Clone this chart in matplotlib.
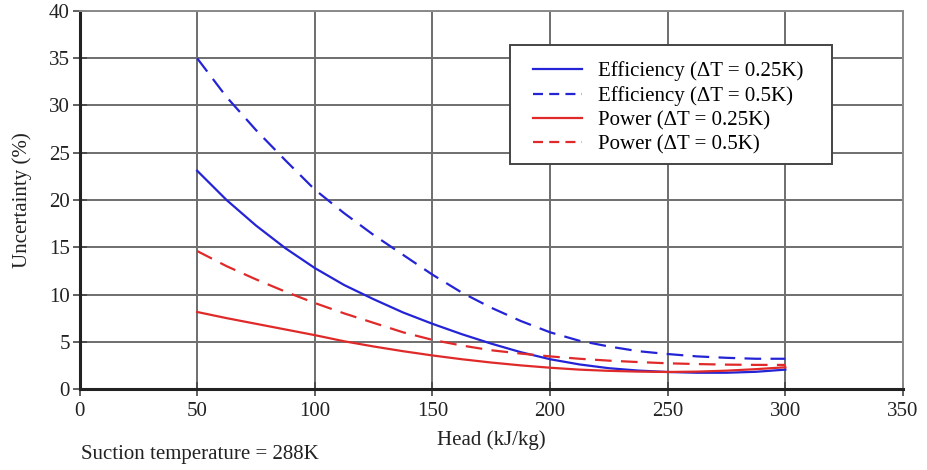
import matplotlib
matplotlib.use("Agg")
import matplotlib.pyplot as plt
from matplotlib.lines import Line2D
from matplotlib.patches import Rectangle

head = [50, 62.5, 75, 87.5, 100, 112.5, 125, 137.5, 150, 162.5, 175,
        187.5, 200, 212.5, 225, 237.5, 250, 262.5, 275, 287.5, 300]
eff_025 = [23.1, 20.0, 17.3, 14.9, 12.8, 11.0, 9.5, 8.1, 6.9, 5.8, 4.8,
           3.9, 3.15, 2.6, 2.2, 1.95, 1.8, 1.72, 1.72, 1.82, 2.05]
eff_05 = [35.0, 30.9, 27.4, 24.2, 21.1, 18.6, 16.3, 14.2, 12.1, 10.2, 8.6,
          7.2, 6.0, 5.1, 4.5, 4.0, 3.7, 3.45, 3.3, 3.2, 3.2]
pow_025 = [8.15, 7.5, 6.9, 6.3, 5.7, 5.05, 4.5, 4.0, 3.55, 3.15, 2.8,
           2.5, 2.25, 2.05, 1.92, 1.84, 1.8, 1.84, 1.94, 2.1, 2.3]
pow_05 = [14.6, 13.0, 11.6, 10.3, 9.1, 8.0, 7.0, 6.0, 5.2, 4.6, 4.1,
          3.75, 3.45, 3.2, 3.0, 2.85, 2.72, 2.64, 2.58, 2.55, 2.55]

labels = ["Efficiency (\u0394T = 0.25K)", "Efficiency (\u0394T = 0.5K)",
          "Power (\u0394T = 0.25K)", "Power (\u0394T = 0.5K)"]
xticks = [0, 50, 100, 150, 200, 250, 300, 350]
yticks = [0, 5, 10, 15, 20, 25, 30, 35, 40]

plt.rcParams['font.family'] = ['Liberation Serif', 'DejaVu Serif']

fig = plt.figure(figsize=(9.27, 4.70), dpi=100)
ax = fig.add_axes([79.5/927, 81/470, 823.5/927, 378/470])

blue = '#2424d6'
red = '#e02a2a'
txt = '#222222'
lw = 1.6
dash = (0, (7.5, 4.2))
ax.plot(head, eff_025, color=blue, lw=lw)
ax.plot(head, eff_05, color=blue, lw=lw, ls=dash)
ax.plot(head, pow_025, color=red, lw=lw)
ax.plot(head, pow_05, color=red, lw=lw, ls=dash)

ax.set_xlim(0, 350)
ax.set_ylim(0, 40)
ax.set_xticks(xticks)
ax.set_yticks(yticks)
ax.grid(True, color='#6e6e6e', lw=1.4)
ax.set_axisbelow(True)
for s in ['top', 'right']:
    ax.spines[s].set_color('#8a8a8a')
    ax.spines[s].set_linewidth(1.4)
for s in ['left', 'bottom']:
    ax.spines[s].set_color('#222222')
    ax.spines[s].set_linewidth(2.2)
ax.tick_params(direction='inout', length=10, width=1.2, color='#444444',
               labelsize=15, labelcolor=txt)
ax.tick_params(axis='x', pad=4)
ax.tick_params(axis='y', pad=2)

ax.set_xlabel('Head (kJ/kg)', fontsize=15, color=txt)
ax.xaxis.set_label_coords(0.5, -0.108)
ax.set_ylabel('Uncertainty (%)', fontsize=15, color=txt, labelpad=12)
fig.text(81/927, 1 - 454/470, 'Suction temperature = 288K', fontsize=15,
         color=txt, va='center', ha='left')

# legend frame (drawn separately to match the box proportions)
box = Rectangle((0.5233, (389 - 164) / 378), 322 / 823.5, 119 / 378,
                transform=ax.transAxes, facecolor='white', edgecolor='#444444',
                lw=1.4, zorder=4)
ax.add_patch(box)

leg_dash = (0, (4.5, 2.8))
handles = [Line2D([], [], color=blue, lw=lw),
           Line2D([], [], color=blue, lw=lw, ls=leg_dash),
           Line2D([], [], color=red, lw=lw),
           Line2D([], [], color=red, lw=lw, ls=leg_dash)]
leg = ax.legend(handles, labels, loc='upper left', bbox_to_anchor=(0.5507, 0.867),
                fontsize=15, frameon=False, handlelength=2.35, handletextpad=0.75,
                borderpad=0, labelspacing=0.23, borderaxespad=0)
leg.set_zorder(5)

fig.savefig('out.png', dpi=100)
